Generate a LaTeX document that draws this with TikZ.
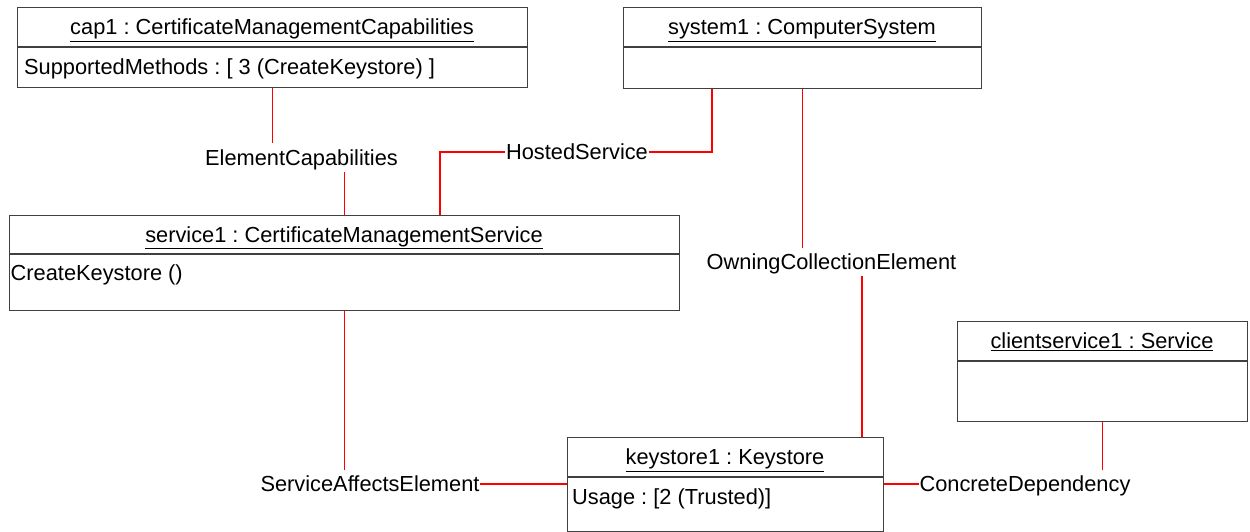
\documentclass[tikz,border=0pt]{standalone}
\usepackage{fontspec}
\setmainfont{Liberation Sans}
\frenchspacing
\newcommand{\umlfont}{\fontsize{21.8}{26}\selectfont}
\tikzset{
  objbox/.style={draw=black!75, line width=1.2pt, anchor=north west, inner sep=0pt},
  objline/.style={draw=black!75, line width=1.2pt},
  objtitle/.style={font=\umlfont, inner sep=0pt, text height=15.7pt, text depth=0pt},
  objattr/.style={font=\umlfont, anchor=west, inner sep=0pt, text height=15.7pt, text depth=0pt},
  assoclabel/.style={font=\umlfont, inner xsep=0.5pt, inner ysep=6pt, text height=15.7pt, text depth=0pt},
  assoc/.style={draw=red, line width=1.1pt},
}
\begin{document}
\begin{tikzpicture}[x=1pt,y=-1pt]
\useasboundingbox (0,0) rectangle (1250,532);
% object boxes
\node[objbox,minimum width=510pt,minimum height=80pt] (cap1) at (17,7) {};
\draw[objline] (cap1.west |- 0,47) -- (cap1.east |- 0,47);
\node[objtitle] (cap1t) at (272,27) {\underline{cap1 : CertificateManagementCapabilities}};
\node[objattr] (cap1a) at (24,67) {SupportedMethods : [ 3 (CreateKeystore) ]};

\node[objbox,minimum width=358pt,minimum height=81pt] (system1) at (623,7) {};
\draw[objline] (system1.west |- 0,47) -- (system1.east |- 0,47);
\node[objtitle] (system1t) at (802,27) {\underline{system1 : ComputerSystem}};

\node[objbox,minimum width=670pt,minimum height=95pt] (service1) at (9,215) {};
\draw[objline] (service1.west |- 0,254) -- (service1.east |- 0,254);
\node[objtitle] (service1t) at (344,234.5) {\underline{service1 : CertificateManagementService}};
\node[objattr] (service1a) at (10.5,273) {CreateKeystore ()};

\node[objbox,minimum width=316pt,minimum height=94pt] (keystore1) at (567,437) {};
\draw[objline] (keystore1.west |- 0,477) -- (keystore1.east |- 0,477);
\node[objtitle] (keystore1t) at (725,457) {\underline{keystore1 : Keystore}};
\node[objattr] (keystore1a) at (572,497) {Usage : [2 (Trusted)]};

\node[objbox,minimum width=290pt,minimum height=100pt] (clientservice1) at (957,321) {};
\draw[objline] (clientservice1.west |- 0,361) -- (clientservice1.east |- 0,361);
\node[objtitle] (clientservice1t) at (1102,341) {\underline{clientservice1 : Service}};

% association names
\node[assoclabel] (ec) at (301.5,157.5) {ElementCapabilities};
\node[assoclabel] (hs) at (577,152) {HostedService};
\node[assoclabel] (oce) at (831.5,262) {OwningCollectionElement};
\node[assoclabel] (sae) at (370,484) {ServiceAffectsElement};
\node[assoclabel] (cd) at (1025,484) {ConcreteDependency};

% links
\draw[assoc] (cap1.south) -- (cap1.south |- ec.north);
\draw[assoc] (service1.north |- ec.south) -- (service1.north);
\draw[assoc] (440,0 |- service1.north) |- (hs.west);
\draw[assoc] (hs.east) -| (712,0 |- system1.south);
\draw[assoc] (system1.south) -- (system1.south |- oce.north);
\draw[assoc] (862,0 |- oce.south) -- (862,0 |- keystore1.north);
\draw[assoc] (service1.south) -- (service1.south |- sae.north);
\draw[assoc] (sae.east) -- (sae.east -| keystore1.west);
\draw[assoc] (keystore1.east |- cd.west) -- (cd.west);
\draw[assoc] (clientservice1.south) -- (clientservice1.south |- cd.north);
\end{tikzpicture}
\end{document}
